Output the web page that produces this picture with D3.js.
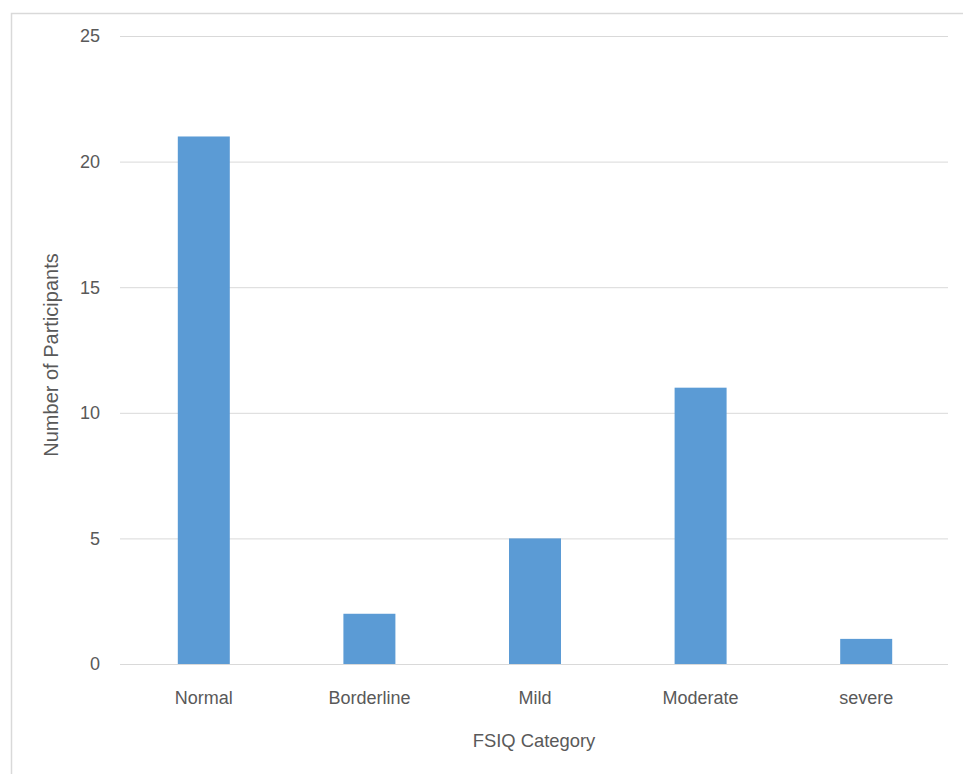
<!DOCTYPE html>
<html><head><meta charset="utf-8">
<script src="https://cdn.jsdelivr.net/npm/d3@7"></script>
<style>body{margin:0;background:#fff;}svg{display:block;}text{font-family:"Liberation Sans",Arial,sans-serif;}</style>
</head><body>
<svg id="c" width="963" height="774"></svg>
<script>
const categories = ["Normal","Borderline","Mild","Moderate","severe"];
const values = [21, 2, 5, 11, 1];
const yTicks = [0,5,10,15,20,25];

(function(){
const svg = d3.select("#c");
// outer chart border
svg.append("rect").attr("x",11.5).attr("y",13.5).attr("width",970).attr("height",800)
  .attr("fill","none").attr("stroke","#d9d9d9").attr("stroke-width",1.5);

const pLeft=120, pRight=948, pTop=36, pBottom=664;
const x = d3.scaleBand().domain(categories).range([pLeft+1,pRight+1]).paddingInner(0.686).paddingOuter(0.343);
const y = d3.scaleLinear().domain([0,25]).range([pBottom,pTop]);

// gridlines
svg.append("g").selectAll("line").data(yTicks).join("line")
  .attr("x1",pLeft).attr("x2",pRight).attr("y1",d=>y(d)+0.5).attr("y2",d=>y(d)+0.5)
  .attr("stroke","#d9d9d9").attr("stroke-width",1);

// y tick labels
svg.append("g").selectAll("text").data(yTicks).join("text")
  .attr("x",100).attr("y",d=>y(d)).attr("dy","0.36em").attr("text-anchor","end")
  .attr("font-size",18).attr("fill","#595959").text(d=>d);

// bars
svg.append("g").selectAll("rect").data(values).join("rect")
  .attr("x",(d,i)=>x(categories[i])).attr("width",x.bandwidth())
  .attr("y",d=>y(d)).attr("height",d=>y(0)-y(d)).attr("fill","#5B9BD5");

// x tick labels
svg.append("g").selectAll("text").data(categories).join("text")
  .attr("x",d=>x(d)+x.bandwidth()/2).attr("y",704).attr("text-anchor","middle")
  .attr("font-size",18).attr("fill","#595959").text(d=>d);

// axis titles
svg.append("text").attr("x",534).attr("y",747).attr("text-anchor","middle")
  .attr("font-size",18.4).attr("fill","#595959").text("FSIQ Category");
svg.append("text").attr("transform","translate(58,355) rotate(-90)").attr("text-anchor","middle")
  .attr("font-size",20).attr("fill","#595959").text("Number of Participants");
})();
</script>
</body></html>
